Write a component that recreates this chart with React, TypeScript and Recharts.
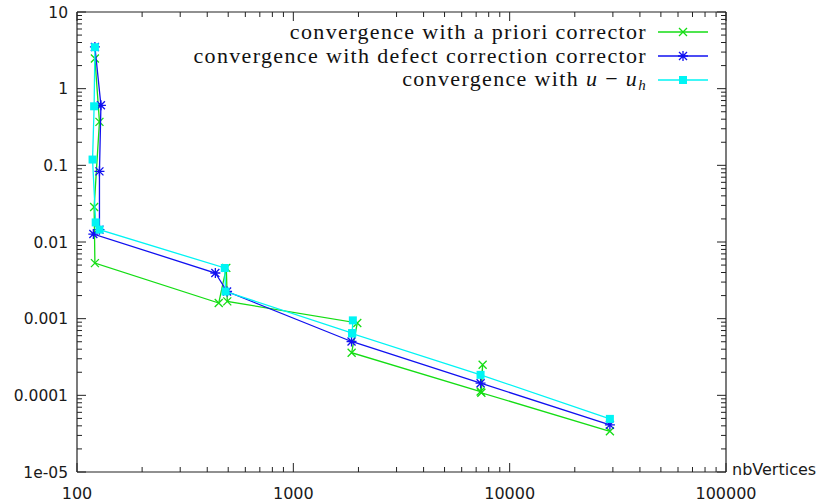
import { ScatterChart, Scatter, XAxis, YAxis, Legend } from "recharts";

// nbVertices / error for each estimator
const APRIORI_N = [121, 127, 120, 121, 452, 490, 495, 1975, 1860, 7340, 7500, 7400, 29060];
const APRIORI_ERR = [2.47, 0.369, 0.0286, 0.0053, 0.0016, 0.0046, 0.00168, 0.00088, 0.00036, 0.000112, 0.00025, 0.000108, 3.4e-5];

const DEFECT_N = [121, 129, 127, 127, 119, 436, 494, 1858, 7337, 29060];
const DEFECT_ERR = [3.5, 0.607, 0.0835, 0.0145, 0.0127, 0.00394, 0.00226, 0.000504, 0.000144, 4.12e-5];

const EXACT_N = [121, 120, 118, 122, 127, 482, 486, 1870, 1884, 1870, 7337, 29060];
const EXACT_ERR = [3.47, 0.589, 0.119, 0.018, 0.0145, 0.00458, 0.00226, 0.00065, 0.00095, 0.00064, 0.000185, 4.93e-5];

const X_MAJOR = [100, 1000, 10000, 100000];
const X_LABELS = ["100", "1000", "10000", "100000"];
const Y_MAJOR = [1e-5, 1e-4, 1e-3, 1e-2, 0.1, 1, 10];
const Y_LABELS = ["1e-05", "0.0001", "0.001", "0.01", "0.1", "1", "10"];

const GREEN = "#14dd14";
const BLUE = "#1010f0";
const CYAN = "#00f4f4";
const FRAME = "#222";
const TICK_FONT = "'DejaVu Sans', sans-serif";
const SERIF = "'Liberation Serif', 'DejaVu Serif', serif";

const W = 821;
const H = 504;

const zip = (n: number[], e: number[]) => n.map((v, i) => ({ v, e: e[i] }));
const apriori = zip(APRIORI_N, APRIORI_ERR);
const defect = zip(DEFECT_N, DEFECT_ERR);
const exact = zip(EXACT_N, EXACT_ERR);

// majors + the 2..9 minor ticks inside each decade
const withMinors = (majors: number[]) => {
  const out = [...majors];
  majors.slice(0, -1).forEach((d) => {
    for (let k = 2; k <= 9; k++) out.push(k * d);
  });
  return out;
};
const xTicks = withMinors(X_MAJOR);
const yTicks = withMinors(Y_MAJOR);

const xLabel = (v: number) => {
  const i = X_MAJOR.indexOf(v);
  return i >= 0 ? X_LABELS[i] : null;
};
const yLabel = (v: number) => {
  const i = Y_MAJOR.indexOf(v);
  return i >= 0 ? Y_LABELS[i] : null;
};

// gnuplot style inward ticks
const BottomTick = ({ x, y, payload }: any) => {
  const lab = xLabel(payload.value);
  return (
    <g>
      <line x1={x} x2={x} y1={y} y2={y - (lab ? 9 : 5)} stroke={FRAME} strokeWidth={1} />
      {lab && (
        <text x={x} y={y + 27} textAnchor="middle" fontFamily={TICK_FONT} fontSize={16} fill="#1a1a1a">
          {lab}
        </text>
      )}
    </g>
  );
};
const TopTick = ({ x, y, payload }: any) => (
  <line x1={x} x2={x} y1={y} y2={y + (xLabel(payload.value) ? 9 : 5)} stroke={FRAME} strokeWidth={1} />
);
const LeftTick = ({ x, y, payload }: any) => {
  const lab = yLabel(payload.value);
  return (
    <g>
      <line x1={x} x2={x + (lab ? 9 : 5)} y1={y} y2={y} stroke={FRAME} strokeWidth={1} />
      {lab && (
        <text x={x - 9} y={y} dy="0.36em" textAnchor="end" fontFamily={TICK_FONT} fontSize={15.5} fill="#1a1a1a">
          {lab}
        </text>
      )}
    </g>
  );
};
const RightTick = ({ x, y, payload }: any) => (
  <line x1={x} x2={x - (yLabel(payload.value) ? 9 : 5)} y1={y} y2={y} stroke={FRAME} strokeWidth={1} />
);

const Cross = ({ cx, cy, color }: any) => (
  <path d={`M${cx - 4},${cy - 4}L${cx + 4},${cy + 4}M${cx - 4},${cy + 4}L${cx + 4},${cy - 4}`} stroke={color} strokeWidth={1.3} fill="none" />
);
const Star = ({ cx, cy, color }: any) => (
  <path
    d={`M${cx - 4},${cy - 4}L${cx + 4},${cy + 4}M${cx - 4},${cy + 4}L${cx + 4},${cy - 4}M${cx - 5},${cy}L${cx + 5},${cy}M${cx},${cy - 5}L${cx},${cy + 5}`}
    stroke={color}
    strokeWidth={1.3}
    fill="none"
  />
);
const Square = ({ cx, cy, color }: any) => <rect x={cx - 4} y={cy - 4} width={8} height={8} fill={color} />;

const SERIES = [
  { name: "convergence with a priori corrector", color: GREEN, Marker: Cross },
  { name: "convergence with defect correction corrector", color: BLUE, Marker: Star },
  { name: "convergence with", color: CYAN, Marker: Square, math: true },
];

const LegendBox = () => (
  <div style={{ fontFamily: SERIF, fontSize: 22, letterSpacing: 1.35, color: "#111" }}>
    {SERIES.map((s) => (
      <div key={s.name} style={{ display: "flex", justifyContent: "flex-end", alignItems: "center", height: 24 }}>
        <span style={{ whiteSpace: "nowrap", lineHeight: "24px" }}>
          {s.name}
          {s.math && (
            <>
              {" "}
              <i>u</i> − <i>u</i>
              <span style={{ fontSize: 15, fontStyle: "italic", position: "relative", top: 4 }}>h</span>
            </>
          )}
        </span>
        <svg width={50} height={24} style={{ marginLeft: 11 }}>
          <line x1={0} x2={50} y1={12} y2={12} stroke={s.color} strokeWidth={1.3} />
          <s.Marker cx={25} cy={12} color={s.color} />
        </svg>
      </div>
    ))}
  </div>
);

export default function App() {
  return (
    <div style={{ position: "absolute", left: 0, top: 0, background: "#fff" }}>
      <ScatterChart width={W} height={H} margin={{ top: 11, right: 94, bottom: 31, left: 76 }}>
        <XAxis
          dataKey="v"
          type="number"
          scale="log"
          domain={[100, 100000]}
          allowDataOverflow
          ticks={xTicks}
          interval={0}
          height={1}
          tickSize={0}
          tickMargin={0}
          tick={<BottomTick />}
          axisLine={{ stroke: FRAME, strokeWidth: 1.2 }}
          label={{ value: "nbVertices", position: "right", offset: 6, dy: -3, fontFamily: TICK_FONT, fontSize: 16, fill: "#1a1a1a" }}
        />
        <XAxis
          xAxisId="top"
          dataKey="v"
          orientation="top"
          type="number"
          scale="log"
          domain={[100, 100000]}
          allowDataOverflow
          ticks={xTicks}
          interval={0}
          height={1}
          tickSize={0}
          tickMargin={0}
          tick={<TopTick />}
          axisLine={{ stroke: FRAME, strokeWidth: 1.2 }}
        />
        <YAxis
          dataKey="e"
          type="number"
          scale="log"
          domain={[1e-5, 10]}
          allowDataOverflow
          ticks={yTicks}
          interval={0}
          width={1}
          tickSize={0}
          tickMargin={0}
          tick={<LeftTick />}
          axisLine={{ stroke: FRAME, strokeWidth: 1.2 }}
        />
        <YAxis
          yAxisId="right"
          dataKey="e"
          orientation="right"
          type="number"
          scale="log"
          domain={[1e-5, 10]}
          allowDataOverflow
          ticks={yTicks}
          interval={0}
          width={1}
          tickSize={0}
          tickMargin={0}
          tick={<RightTick />}
          axisLine={{ stroke: FRAME, strokeWidth: 1.2 }}
        />
        <Legend
          layout="vertical"
          align="center"
          verticalAlign="middle"
          wrapperStyle={{ top: 20, left: 0, width: 708, height: 72 }}
          content={() => <LegendBox />}
        />
        <Scatter
          data={apriori}
          isAnimationActive={false}
          line={{ stroke: GREEN, strokeWidth: 1.3 }}
          shape={(p: any) => <Cross cx={p.cx} cy={p.cy} color={GREEN} />}
        />
        <Scatter
          data={defect}
          isAnimationActive={false}
          line={{ stroke: BLUE, strokeWidth: 1.3 }}
          shape={(p: any) => <Star cx={p.cx} cy={p.cy} color={BLUE} />}
        />
        <Scatter
          data={exact}
          isAnimationActive={false}
          line={{ stroke: CYAN, strokeWidth: 1.3 }}
          shape={(p: any) => <Square cx={p.cx} cy={p.cy} color={CYAN} />}
        />
      </ScatterChart>
    </div>
  );
}
